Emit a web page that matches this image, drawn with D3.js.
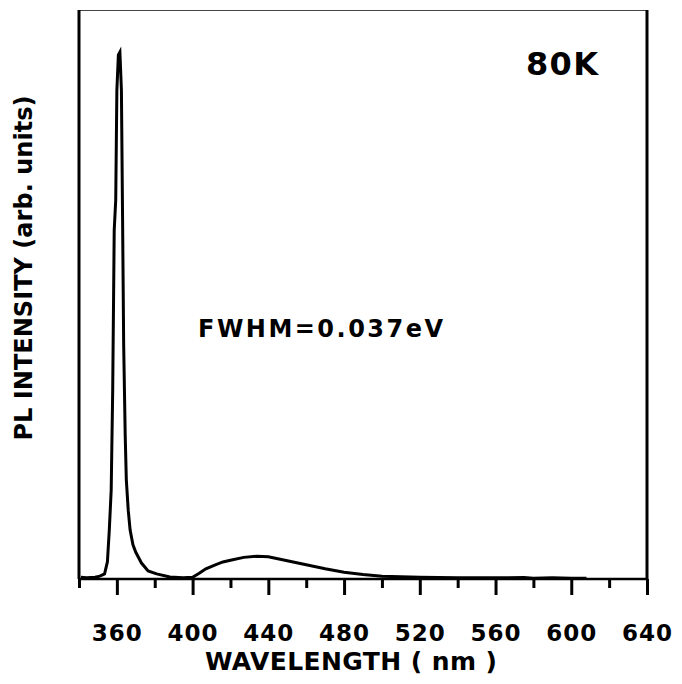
<!DOCTYPE html>
<html>
<head>
<meta charset="utf-8">
<script src="https://cdn.jsdelivr.net/npm/d3@7"></script>
<style>
  html, body { margin: 0; padding: 0; background: #fff; }
  svg text { font-family: "DejaVu Sans", sans-serif; font-weight: bold; fill: #000; }
</style>
</head>
<body>
<svg id="chart" width="682" height="684"></svg>
<script>
// PL spectrum at 80 K: wavelength (nm) and intensity (arb. units)
const wavelength = [341, 344, 348.5, 351, 353.5, 355, 356, 357, 357.8, 358.6, 359.4, 360, 360.8, 361.6,
  362.4, 363, 363.6, 364.4, 365, 366, 367, 368.5, 370, 373, 376.5, 381, 388, 395, 400, 403.5, 407,
  412, 416, 420, 427, 434, 440, 450, 460, 470, 480, 490, 500, 510, 520, 540, 560, 575, 580, 590, 600, 608];
const intensity = [0.003, 0.002, 0.003, 0.005, 0.009, 0.030, 0.086, 0.156, 0.332, 0.613, 0.666, 0.859, 0.921, 0.926,
  0.859, 0.640, 0.411, 0.253, 0.174, 0.121, 0.086, 0.060, 0.047, 0.028, 0.014, 0.009, 0.0035, 0.002, 0.003, 0.010, 0.018,
  0.025, 0.030, 0.033, 0.038, 0.040, 0.039, 0.032, 0.025, 0.018, 0.012, 0.008, 0.005, 0.004, 0.003, 0.002, 0.002, 0.0025, 0.0015, 0.002, 0.0015, 0.0015];

const majorTicks = [360, 400, 440, 480, 520, 560, 600, 640];
const minorTicks = [340, 380, 420, 460, 500, 540, 580, 620];

const xLabel = "WAVELENGTH ( nm )";
const yLabel = "PL INTENSITY (arb. units)";
const tempLabel = "80K";
const fwhmLabel = "FWHM=0.037eV";

const svg = d3.select("#chart");
const plotLeft = 79, plotRight = 647, plotTop = 10, plotBottom = 579;

const x = d3.scaleLinear().domain([340, 640]).range([plotLeft, plotRight]);
const y = d3.scaleLinear().domain([0, 1]).range([plotBottom, plotTop]);

// frame: thin top edge, heavy left/right edges
svg.append("line").attr("x1", plotLeft).attr("x2", plotRight).attr("y1", plotTop + 0.5).attr("y2", plotTop + 0.5)
  .attr("stroke", "#444").attr("stroke-width", 1.2);
svg.append("line").attr("x1", plotLeft).attr("x2", plotLeft).attr("y1", plotTop).attr("y2", plotBottom)
  .attr("stroke", "#000").attr("stroke-width", 3);
svg.append("line").attr("x1", plotRight).attr("x2", plotRight).attr("y1", plotTop).attr("y2", plotBottom)
  .attr("stroke", "#000").attr("stroke-width", 3);

// bottom axis: minor ticks (unlabelled) and major ticks (labelled)
const minorAxis = d3.axisBottom(x).tickValues(minorTicks).tickSize(9).tickFormat("");
const gMinor = svg.append("g").attr("transform", `translate(0,${plotBottom})`).call(minorAxis);
gMinor.select(".domain").remove();
gMinor.selectAll(".tick line").attr("stroke", "#000").attr("stroke-width", 3);

const majorAxis = d3.axisBottom(x).tickValues(majorTicks).tickSize(16).tickFormat(d3.format("d"));
const gMajor = svg.append("g").attr("transform", `translate(0,${plotBottom})`).call(majorAxis);
gMajor.select(".domain").attr("stroke", "#000").attr("stroke-width", 2.5).attr("d", `M${plotLeft},0H${plotRight}`);
gMajor.selectAll(".tick line").attr("stroke", "#000").attr("stroke-width", 3);
gMajor.selectAll(".tick text")
  .attr("font-size", 23).attr("font-family", "DejaVu Sans").attr("font-weight", "bold")
  .attr("letter-spacing", 1).attr("dy", 0).attr("y", 62).attr("fill", "#000");

// spectrum
const line = d3.line().x((d, i) => x(wavelength[i])).y(d => y(d));
svg.append("path").datum(intensity)
  .attr("d", line)
  .attr("fill", "none").attr("stroke", "#000").attr("stroke-width", 3)
  .attr("stroke-linejoin", "miter");

// axis titles
svg.append("text").attr("x", 351).attr("y", 670).attr("text-anchor", "middle")
  .attr("font-size", 25).attr("textLength", 292).attr("lengthAdjust", "spacing").text(xLabel);
svg.append("text").attr("transform", "translate(32,268) rotate(-90)").attr("text-anchor", "middle")
  .attr("font-size", 24).attr("textLength", 345).attr("lengthAdjust", "spacing").text(yLabel);

// annotations
svg.append("text").attr("x", 526).attr("y", 75)
  .attr("font-size", 32).attr("textLength", 72).attr("lengthAdjust", "spacing").text(tempLabel);
svg.append("text").attr("x", 198).attr("y", 337)
  .attr("font-size", 24).attr("textLength", 245).attr("lengthAdjust", "spacing").text(fwhmLabel);
</script>
</body>
</html>
